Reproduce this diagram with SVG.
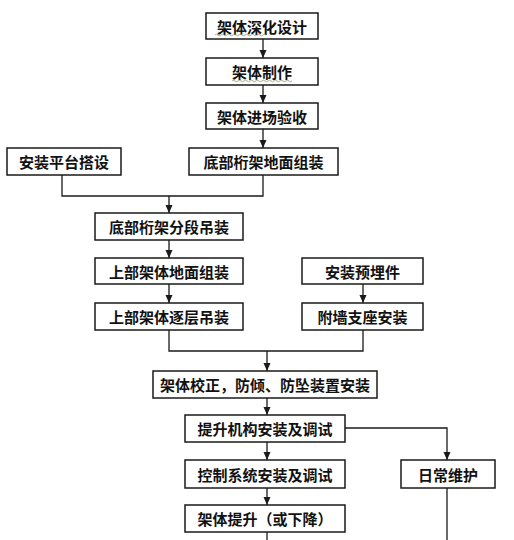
<svg xmlns="http://www.w3.org/2000/svg" width="514" height="540" viewBox="0 0 514 540">
<defs>
<marker id="arr" markerUnits="userSpaceOnUse" markerWidth="8" markerHeight="8" refX="8" refY="4" orient="auto">
<path d="M0,0.5 L8,4 L0,7.5 z" fill="#1a1a1a"/>
</marker>
</defs>
<style>
.box{fill:#fff;stroke:#1a1a1a;stroke-width:1.5}
.t{font-family:"Noto Sans CJK SC","Noto Sans CJK TC",sans-serif;font-weight:700;font-size:15px;fill:#111;text-anchor:middle;dominant-baseline:central}
.c{fill:none;stroke:#1a1a1a;stroke-width:1.3}
.a{marker-end:url(#arr)}
.w{fill:none;stroke:#8a9a70;stroke-width:0.8}
</style>
<rect width="514" height="540" fill="#fff"/>
<g id="connectors">
<path class="c a" d="M263 39 V58"/>
<path class="c a" d="M263 85 V103"/>
<path class="c a" d="M263 129 V148"/>
<path class="c" d="M62 175 V196 H263 V175"/>
<path class="c a" d="M169 196 V213"/>
<path class="c a" d="M169 240 V258"/>
<path class="c a" d="M169 284 V303"/>
<path class="c a" d="M363 284 V303"/>
<path class="c" d="M169 330 V351 H363 V330"/>
<path class="c a" d="M267 351 V371"/>
<path class="c a" d="M267 398 V415"/>
<path class="c a" d="M267 442 V460"/>
<path class="c a" d="M345 428 H447 V460"/>
<path class="c a" d="M267 488 V505"/>
<path class="c" d="M267 532 V540"/>
<path class="c" d="M447 488 V540"/>
</g>
<g id="n1"><rect class="box" x="206" y="13" width="112" height="26"/><text class="t" x="262" y="26">架体深化设计</text>
<path class="w" d="M215 35 q1.5 -1.5 3 0 t3 0 t3 0 t3 0 t3 0 t3 0 t3 0 t3 0 t3 0 t3 0 t3 0 t3 0 t3 0 t3 0 t3 0 t3 0 t3 0"/></g>
<g id="n2"><rect class="box" x="206" y="58" width="112" height="27"/><text class="t" x="262" y="71.5">架体制作</text>
<path class="w" d="M232 81 q1.5 -1.5 3 0 t3 0 t3 0 t3 0 t3 0 t3 0 t3 0 t3 0 t3 0 t3 0 t3 0 t3 0 t3 0 t3 0 t3 0 t3 0 t3 0 t3 0 t3 0 t3 0"/></g>
<g id="n3"><rect class="box" x="206" y="103" width="112" height="26"/><text class="t" x="262" y="116">架体进场验收</text></g>
<g id="n4"><rect class="box" x="189" y="148" width="149" height="27"/><text class="t" x="263.5" y="161.5">底部桁架地面组装</text></g>
<g id="n5"><rect class="box" x="7" y="148" width="114" height="27"/><text class="t" x="64" y="161.5">安装平台搭设</text></g>
<g id="n6"><rect class="box" x="95" y="213" width="148" height="27"/><text class="t" x="169" y="226.5">底部桁架分段吊装</text></g>
<g id="n7"><rect class="box" x="95" y="258" width="148" height="26"/><text class="t" x="169" y="271">上部架体地面组装</text></g>
<g id="n8"><rect class="box" x="95" y="303" width="148" height="27"/><text class="t" x="169" y="316.5">上部架体逐层吊装</text></g>
<g id="n9"><rect class="box" x="302" y="258" width="121" height="26"/><text class="t" x="362.5" y="271">安装预埋件</text></g>
<g id="n10"><rect class="box" x="302" y="303" width="121" height="27"/><text class="t" x="362.5" y="316.5">附墙支座安装</text></g>
<g id="n11"><rect class="box" x="153" y="371" width="224" height="27"/><text class="t" x="265" y="384.5">架体校正，防倾、防坠装置安装</text></g>
<g id="n12"><rect class="box" x="185" y="415" width="160" height="27"/><text class="t" x="265" y="428.5">提升机构安装及调试</text></g>
<g id="n13"><rect class="box" x="185" y="460" width="160" height="28"/><text class="t" x="265" y="474">控制系统安装及调试</text></g>
<g id="n14"><rect class="box" x="401" y="460" width="94" height="28"/><text class="t" x="448" y="474">日常维护</text></g>
<g id="n15"><rect class="box" x="185" y="505" width="160" height="27"/><text class="t" x="265" y="518.5">架体提升（或下降）</text></g>
</svg>
